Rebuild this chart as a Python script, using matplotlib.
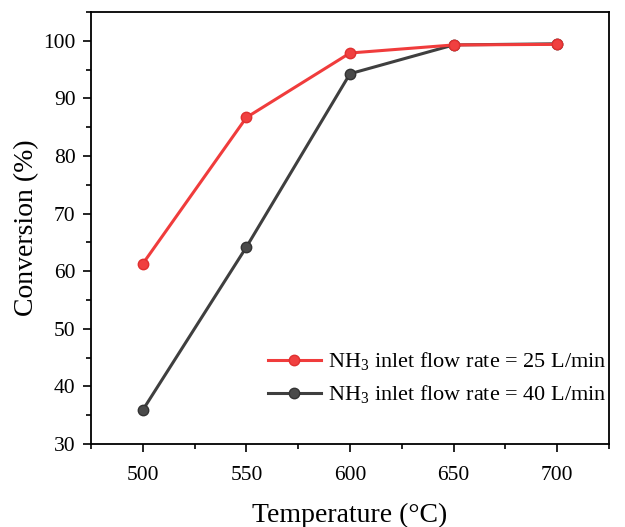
import matplotlib
matplotlib.use("Agg")
import matplotlib.pyplot as plt
from matplotlib.ticker import MultipleLocator

temperature = [500, 550, 600, 650, 700]
conv_25 = [61.3, 86.7, 97.9, 99.3, 99.4]
conv_40 = [35.9, 64.2, 94.3, 99.3, 99.5]
labels = ["NH$_3$ inlet flow rate = 25 L/min", "NH$_3$ inlet flow rate = 40 L/min"]

plt.rcParams['font.family'] = ['Liberation Serif', 'DejaVu Serif']
plt.rcParams['mathtext.fontset'] = 'custom'
plt.rcParams['mathtext.rm'] = 'Liberation Serif'
plt.rcParams['mathtext.it'] = 'Liberation Serif:italic'

fig = plt.figure(figsize=(6.25, 5.27), dpi=100)
ax = fig.add_axes([0.1456, 0.1575, 0.8288, 0.8195])

ax.plot(temperature, conv_25, color='#f03c3c', lw=2.2, marker='o', ms=7.5,
        markerfacecolor='#f04040', markeredgecolor='#e03030', label=labels[0], zorder=3)
ax.plot(temperature, conv_40, color='#3f3f3f', lw=2.2, marker='o', ms=7.5,
        markerfacecolor='#4a4a4a', markeredgecolor='#333333', label=labels[1], zorder=2)

ax.set_xlim(475, 725)
ax.set_ylim(30, 105)
ax.xaxis.set_major_locator(MultipleLocator(50))
ax.xaxis.set_minor_locator(MultipleLocator(25))
ax.yaxis.set_major_locator(MultipleLocator(10))
ax.yaxis.set_minor_locator(MultipleLocator(5))
ax.tick_params(which='both', direction='out', width=1.2, labelsize=15.5, top=False, right=False)
ax.tick_params(which='major', length=6, pad=5)
ax.tick_params(which='minor', length=3.5)
ax.tick_params(axis='x', which='major', pad=9.5)
for s in ax.spines.values():
    s.set_linewidth(1.3)

ax.set_xlabel('Temperature (°C)', fontsize=20, labelpad=13)
ax.set_ylabel('Conversion (%)', fontsize=20, labelpad=3)

ax.legend(loc='lower right', bbox_to_anchor=(1.033, 0.043), frameon=False, fontsize=16,
          handlelength=2.4, handletextpad=0.3, labelspacing=0.5)

fig.savefig('out.png', dpi=100)
